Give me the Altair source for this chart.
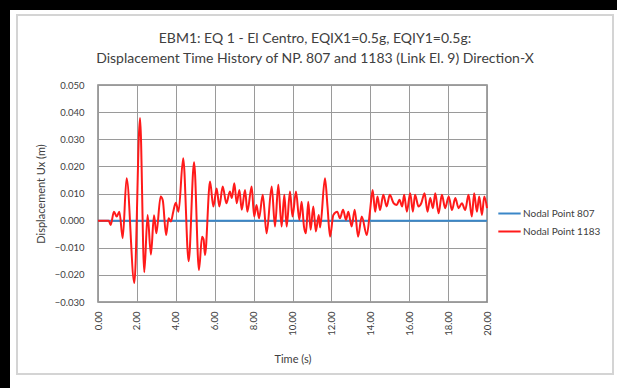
import altair as alt
import pandas as pd

# Time (s) and displacement Ux (m) of nodal point 1183
times_1183 = [
    0.0, 0.55, 0.65, 0.82, 0.96, 1.1, 1.27, 1.47, 1.87, 2.16, 2.38, 2.55, 2.72, 2.88, 3.0,
    3.22, 3.33, 3.5, 3.63, 3.75, 3.87, 4.0, 4.14, 4.38, 4.66, 4.94, 5.19, 5.35, 5.43, 5.5,
    5.76, 5.93, 6.1, 6.24, 6.41, 6.6, 6.78, 6.88, 7.01, 7.13, 7.27, 7.39, 7.56, 7.68, 7.9,
    8.03, 8.15, 8.28, 8.47, 8.67, 8.93, 9.1, 9.27, 9.44, 9.58, 9.7, 9.87, 10.0, 10.18,
    10.35, 10.47, 10.59, 10.69, 10.81, 10.93, 11.07, 11.2, 11.35, 11.42, 11.67, 11.8,
    11.93, 12.1, 12.3, 12.44, 12.6, 12.75, 12.87, 13.04, 13.2, 13.37, 13.56, 13.82, 13.99,
    14.12, 14.25, 14.37, 14.5, 14.67, 14.84, 15.0, 15.2, 15.36, 15.5, 15.64, 15.74, 15.88,
    16.05, 16.19, 16.3, 16.48, 16.62, 16.79, 16.94, 17.08, 17.22, 17.34, 17.51, 17.68,
    17.85, 18.03, 18.2, 18.37, 18.54, 18.71, 18.88, 19.05, 19.22, 19.34, 19.48, 19.6,
    19.74, 19.86, 20.0,
]
ux_1183 = [
    0.0, 0.0, -0.0016, 0.0033, 0.0015, 0.0033, -0.0065, 0.0156, -0.023, 0.0378, -0.019,
    0.0021, -0.0125, 0.002, -0.0047, 0.0089, 0.0075, -0.0053, 0.0009, -0.0003, 0.0033,
    0.0066, 0.0033, 0.023, -0.015, 0.0215, -0.0182, -0.0059, -0.007, -0.0127, 0.0144,
    0.0052, 0.0118, 0.0052, 0.0126, 0.0064, 0.0107, 0.0083, 0.0138, 0.0064, 0.0113, 0.004,
    0.0113, 0.0033, 0.0126, 0.0015, 0.0058, 0.0009, 0.0095, -0.0047, 0.0126, -0.0022,
    0.0132, -0.0022, 0.0095, -0.0022, 0.0107, 0.0015, 0.0107, 0.0003, 0.007, -0.0022,
    -0.0047, 0.007, -0.0034, 0.0052, -0.004, 0.0021, -0.0025, 0.0156, 0.0052, -0.0059,
    0.0021, 0.0033, 0.0009, 0.004, 0.0003, 0.0033, -0.0022, 0.004, -0.0059, 0.0015,
    -0.0053, 0.0039, 0.0113, 0.0033, 0.0089, 0.0039, 0.0095, 0.0052, 0.0095, 0.0064,
    0.0058, 0.0077, 0.0052, 0.0095, 0.0033, 0.0101, 0.0033, 0.0095, 0.0052, 0.0064,
    0.0101, 0.0033, 0.0083, 0.0046, 0.0101, 0.0027, 0.0095, 0.0046, 0.0089, 0.0039,
    0.0083, 0.0046, 0.0064, 0.0039, 0.0095, 0.0015, 0.0101, 0.0033, 0.0089, 0.0021,
    0.0089, 0.0046,
]

# Nodal point 807 stays at rest for the whole record
times_807 = [0.0, 20.0]
ux_807 = [0.0, 0.0]

series_names = ["Nodal Point 807", "Nodal Point 1183"]
series_colors = ["#3a87c8", "#ff1a1a"]

title_lines = [
    "EBM1: EQ 1 - El Centro, EQIX1=0.5g, EQIY1=0.5g:",
    "Displacement Time History of NP. 807 and 1183 (Link El. 9) Direction-X",
]

y_ticks = [-0.03, -0.02, -0.01, 0.0, 0.01, 0.02, 0.03, 0.04, 0.05]
x_ticks = [0, 2, 4, 6, 8, 10, 12, 14, 16, 18, 20]

df = pd.concat([
    pd.DataFrame({"t": times_807, "ux": ux_807, "series": series_names[0], "order": 0}),
    pd.DataFrame({"t": times_1183, "ux": ux_1183, "series": series_names[1], "order": 1}),
], ignore_index=True)

one_row = pd.DataFrame({"k": [0]})

FONT = "Lato"
TXT = "#404040"

# Outer chart frame and dark strip along the top/left edges
edge_left = alt.Chart(one_row).mark_rect(color="#000000").encode(
    x=alt.value(-98), x2=alt.value(-88), y=alt.value(-85), y2=alt.value(303)
)
edge_top = alt.Chart(one_row).mark_rect(color="#000000").encode(
    x=alt.value(-98), x2=alt.value(519), y=alt.value(-85), y2=alt.value(-75)
)
frame = alt.Chart(one_row).mark_rect(fill=None, stroke="#d4d4d4", strokeWidth=2).encode(
    x=alt.value(-81), x2=alt.value(515), y=alt.value(-70), y2=alt.value(289)
)

# Two-line chart title, centred on the outer frame
title_1 = alt.Chart(one_row).mark_text(
    text=title_lines[0], font=FONT, fontSize=14, color=TXT, align="center", baseline="middle"
).encode(x=alt.value(217), y=alt.value(-46))
title_2 = alt.Chart(one_row).mark_text(
    text=title_lines[1], font=FONT, fontSize=14, color=TXT, align="center", baseline="middle"
).encode(x=alt.value(217), y=alt.value(-26))

lines = alt.Chart(df).mark_line(strokeWidth=2, interpolate="monotone").encode(
    x=alt.X("t:Q", title="Time (s)",
            scale=alt.Scale(domain=[0, 20], nice=False),
            axis=alt.Axis(values=x_ticks, format=".2f", labelAngle=-90,
                          labelAlign="right", labelBaseline="middle",
                          labelPadding=9, titlePadding=18)),
    y=alt.Y("ux:Q", title="Displacement Ux (m)",
            scale=alt.Scale(domain=[-0.03, 0.05], nice=False),
            axis=alt.Axis(values=y_ticks, format=".3f", labelPadding=14,
                          titlePadding=8)),
    color=alt.Color("series:N", scale=alt.Scale(domain=series_names, range=series_colors),
                    legend=alt.Legend(title=None, orient="none", legendX=399, legendY=116,
                                      symbolType="stroke", symbolSize=500,
                                      symbolStrokeWidth=2, labelFontSize=10,
                                      labelFont=FONT, labelColor=TXT, rowPadding=0,
                                      padding=0, labelOffset=1)),
    order="order:Q",
)

chart = alt.layer(edge_left, edge_top, frame, title_1, title_2, lines).properties(
    width=389,
    height=217,
    padding={"left": 98, "top": 85, "right": 130, "bottom": 86},
    autosize=alt.AutoSizeParams(type="none"),
    background="white",
).configure_view(
    stroke="#858585", strokeWidth=1.5
).configure_axis(
    labelFont=FONT, titleFont=FONT, labelFontSize=9.5, titleFontSize=11,
    titleFontWeight="normal", labelColor=TXT, titleColor=TXT,
    grid=True, gridColor="#9a9a9a", gridWidth=1, domain=False, ticks=False,
)

chart.save("out.html", embed_options={"renderer": "svg", "actions": False})
